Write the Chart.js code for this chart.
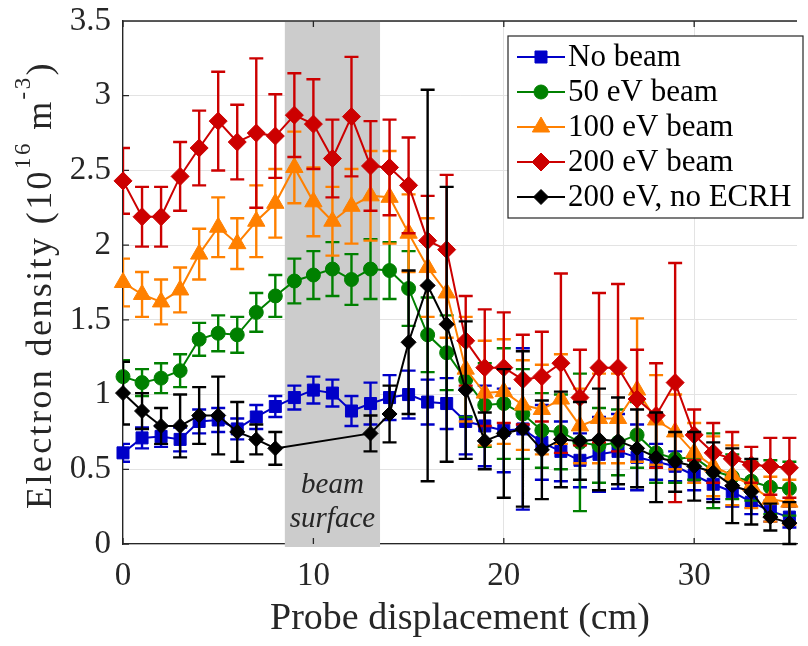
<!DOCTYPE html>
<html><head><meta charset="utf-8">
<script src="https://cdn.jsdelivr.net/npm/chart.js@4.4.1/dist/chart.umd.min.js"></script>
<style>html,body{margin:0;padding:0;background:#fff;overflow:hidden}canvas{display:block}</style>
</head><body>
<canvas id="c" width="808" height="646"></canvas>
<script>
// ---- data ----
const positions = [0,1,2,3,4,5,6,7,8,9,10,11,12,13,14,15,16,17,18,19,20,21,22,23,24,25,26,27,28,29,30,31,32,33,34,35];
const seriesLabels = ['No beam','50 eV beam','100 eV beam','200 eV beam','200 eV, no ECRH'];
const noBeam = [0.61,0.71,0.72,0.70,0.82,0.83,0.77,0.85,0.92,0.98, 1.03,1.01,0.89,0.94,0.98,1.00,0.95,0.94,0.82,0.79, 0.76,0.77,0.68,0.62,0.56,0.60,0.62,0.58,0.55,0.52, 0.46,0.40,0.35,0.28,0.22,0.18];
const noBeamErr = [0.06,0.07,0.07,0.08,0.08,0.08,0.07,0.08,0.07,0.08, 0.09,0.09,0.10,0.14,0.15,0.16,0.15,0.17,0.22,0.27, 0.28,0.54,0.25,0.20,0.18,0.25,0.25,0.22,0.12,0.10, 0.10,0.10,0.10,0.08,0.07,0.07];
const beam50 = [1.12,1.08,1.11,1.16,1.37,1.41,1.40,1.55,1.66,1.76, 1.80,1.84,1.77,1.84,1.83,1.71,1.40,1.28,1.10,0.93, 0.94,0.87,0.76,0.75,0.68,0.66,0.68,0.73,0.61,0.57, 0.58,0.49,0.45,0.42,0.38,0.37];
const beam50Err = [0.11,0.09,0.10,0.11,0.11,0.12,0.12,0.13,0.14,0.15, 0.16,0.18,0.17,0.20,0.19,0.25,0.25,0.25,0.25,0.28, 0.37,0.30,0.25,0.25,0.46,0.25,0.22,0.22,0.20,0.16, 0.15,0.25,0.15,0.13,0.18,0.18];
const beam100 = [1.75,1.67,1.62,1.70,1.94,2.12,2.01,2.16,2.28,2.52, 2.29,2.16,2.26,2.33,2.32,2.08,1.85,1.68,1.17,1.01, 1.02,0.93,0.90,0.97,0.79,0.84,0.84,1.03,0.83,0.75, 0.61,0.52,0.46,0.39,0.30,0.28];
const beam100Err = [0.16,0.15,0.15,0.15,0.17,0.20,0.17,0.24,0.23,0.24, 0.23,0.23,0.25,0.30,0.31,0.26,0.33,0.30,0.35,0.35, 0.35,0.30,0.30,0.30,0.25,0.30,0.30,0.48,0.30,0.25, 0.20,0.20,0.20,0.15,0.15,0.15];
const beam200 = [2.43,2.19,2.19,2.46,2.65,2.83,2.69,2.75,2.73,2.87, 2.81,2.58,2.86,2.53,2.52,2.40,2.03,1.97,1.36,1.18, 1.18,1.10,1.12,1.21,0.98,1.18,1.18,0.97,0.86,1.08, 0.73,0.61,0.57,0.53,0.52,0.51];
const beam200Err = [0.22,0.20,0.20,0.23,0.25,0.33,0.25,0.50,0.28,0.28, 0.30,0.26,0.40,0.30,0.32,0.32,0.30,0.50,0.30,0.39, 0.37,0.30,0.30,0.60,0.32,0.50,0.56,0.33,0.35,0.80, 0.17,0.20,0.18,0.12,0.19,0.20];
const noEcrh = [1.01,0.89,0.79,0.79,0.86,0.86,0.75,0.70,0.64,null, null,null,null,0.74,0.87,1.35,1.73,1.47,1.03,0.69, 0.74,0.77,0.63,0.70,0.69,0.70,0.69,0.64,0.58,0.55, 0.52,0.48,0.39,0.35,0.18,0.14];
const noEcrhErr = [0.21,0.12,0.12,0.21,0.19,0.26,0.20,0.10,0.11,null, null,null,null,0.12,0.19,0.48,1.31,0.92,0.46,0.19, 0.43,0.52,0.33,0.32,0.26,0.34,0.29,0.26,0.30,0.20, 0.23,0.20,0.25,0.22,0.09,0.14];
const xTicks = [0,10,20,30];
const yTicks = [0,0.5,1,1.5,2,2.5,3,3.5];
const beamBand = [8.5, 13.5];
const bandText = ['beam','surface'];
const xTitle = 'Probe displacement (cm)';

const FONT = "'Liberation Serif','Times New Roman',serif";
const colors = ['#0000c8','#008000','#ff8000','#cc0000','#000000'];
const styles = ['rect','circle','triangle','rectRot','rectRot'];
const radii = [8.5,7,10,9,7.5];

function pts(vals){ return positions.map((x,i)=>({x:x, y:vals[i]})); }
const valueSets = [noBeam, beam50, beam100, beam200, noEcrh];
const errSets = [noBeamErr, beam50Err, beam100Err, beam200Err, noEcrhErr];

const datasets = valueSets.map((v,k)=>({
  label: seriesLabels[k],
  data: pts(v),
  errs: errSets[k],
  showLine: true,
  spanGaps: true,
  borderColor: colors[k],
  backgroundColor: colors[k],
  borderWidth: 2,
  pointStyle: styles[k],
  pointRadius: radii[k],
  pointBorderWidth: 1,
  pointHoverRadius: radii[k],
  pointBackgroundColor: colors[k],
  pointBorderColor: colors[k],
  order: 5 - k,
  clip: false
}));

// ---- plugins ----
const bandPlugin = {
  id: 'band',
  beforeDatasetsDraw(chart){
    const {ctx, chartArea:a, scales:{x,y}} = chart;
    ctx.save();
    const x1 = x.getPixelForValue(beamBand[0]), x2 = x.getPixelForValue(beamBand[1]);
    ctx.fillStyle = '#cccccc';
    ctx.fillRect(x1, a.top+1, x2-x1, a.bottom-a.top+2);
    ctx.fillStyle = '#262626';
    ctx.font = 'italic 29px ' + FONT;
    ctx.textAlign = 'center';
    ctx.textBaseline = 'alphabetic';
    const cx = x.getPixelForValue((beamBand[0]+beamBand[1])/2);
    ctx.fillText(bandText[0], cx, y.getPixelForValue(0.34));
    ctx.fillText(bandText[1], cx, y.getPixelForValue(0.115));
    // frame top + inward ticks
    ctx.strokeStyle = '#262626';
    ctx.lineWidth = 1.3;
    ctx.beginPath();
    ctx.moveTo(a.left, a.top); ctx.lineTo(a.right, a.top);
    xTicks.forEach(t=>{const px=x.getPixelForValue(t); ctx.moveTo(px,a.bottom); ctx.lineTo(px,a.bottom-6); ctx.moveTo(px,a.top); ctx.lineTo(px,a.top+6);});
    yTicks.forEach(t=>{const py=y.getPixelForValue(t); ctx.moveTo(a.left,py); ctx.lineTo(a.left+6,py);});
    ctx.stroke();
    ctx.restore();
  }
};

const errPlugin = {
  id: 'errbars',
  beforeDatasetDraw(chart, args){
    const ds = chart.data.datasets[args.index];
    const meta = args.meta;
    const {ctx, chartArea:a, scales:{y}} = chart;
    ctx.save();
    ctx.beginPath(); ctx.rect(a.left, a.top, a.right-a.left, a.bottom-a.top+3); ctx.clip();
    ctx.strokeStyle = ds.borderColor;
    ctx.lineWidth = 2.4;
    ctx.beginPath();
    meta.data.forEach((el,i)=>{
      const v = ds.data[i].y, e = ds.errs[i];
      if (v==null || e==null) return;
      const px = el.x, yt = y.getPixelForValue(v+e), yb = y.getPixelForValue(v-e);
      ctx.moveTo(px, yt); ctx.lineTo(px, yb);
      ctx.moveTo(px-7, yt); ctx.lineTo(px+7, yt);
      ctx.moveTo(px-7, yb); ctx.lineTo(px+7, yb);
    });
    ctx.stroke();
    ctx.restore();
  }
};

function marker(ctx, style, r, x, y){
  ctx.beginPath();
  if (style==='rect'){ const s=Math.SQRT1_2*r; ctx.rect(x-s,y-s,2*s,2*s); }
  else if (style==='circle'){ ctx.arc(x,y,r,0,Math.PI*2); }
  else if (style==='triangle'){ for(let i=0;i<3;i++){const ang=-Math.PI/2+i*2*Math.PI/3; const px=x+Math.cos(ang)*r, py=y+Math.sin(ang)*r; i?ctx.lineTo(px,py):ctx.moveTo(px,py);} ctx.closePath(); }
  else { ctx.moveTo(x,y-r); ctx.lineTo(x+r,y); ctx.lineTo(x,y+r); ctx.lineTo(x-r,y); ctx.closePath(); }
  ctx.fill(); ctx.stroke();
}

const legendPlugin = {
  id: 'boxLegend',
  afterDraw(chart){
    const {ctx, chartArea:a} = chart;
    const left = a.left + 385, top = a.top + 15, w = 295, h = 182;
    ctx.save();
    ctx.fillStyle = '#ffffff';
    ctx.fillRect(left, top, w, h);
    ctx.strokeStyle = '#262626'; ctx.lineWidth = 1.2;
    ctx.strokeRect(left, top, w, h);
    ctx.font = '31px ' + FONT;
    ctx.textBaseline = 'middle';
    ctx.textAlign = 'left';
    chart.data.datasets.forEach((ds,k)=>{
      const cy = top + 21 + k*35;
      ctx.strokeStyle = ds.borderColor; ctx.fillStyle = ds.borderColor; ctx.lineWidth = 2;
      ctx.beginPath(); ctx.moveTo(left+9, cy); ctx.lineTo(left+57, cy); ctx.stroke();
      ctx.lineWidth = 1;
      marker(ctx, ds.pointStyle, ds.pointRadius, left+33, cy);
      ctx.fillStyle = '#000';
      ctx.fillText(ds.label, left+60, cy+1);
    });
    ctx.restore();
  }
};

const yTitlePlugin = {
  id: 'yTitle',
  afterDraw(chart){
    const ctx = chart.ctx;
    const segs = [['Electron density (10',0],['16',1],[' m',0],['-3',1],[')',0]];
    const big = '36px ' + FONT, small = '23px ' + FONT;
    ctx.save();
    ctx.letterSpacing = '2.4px';
    let total = 0;
    segs.forEach(s=>{ ctx.font = s[1]?small:big; total += ctx.measureText(s[0]).width; });
    ctx.translate(51, 285);
    ctx.rotate(-Math.PI/2);
    ctx.fillStyle = '#262626';
    ctx.textBaseline = 'alphabetic';
    let pos = -total/2;
    segs.forEach(s=>{ ctx.font = s[1]?small:big; ctx.fillText(s[0], pos, s[1]?-21:0); pos += ctx.measureText(s[0]).width; });
    ctx.restore();
  }
};

new Chart(document.getElementById('c'), {
  type: 'scatter',
  data: { datasets },
  options: {
    responsive: false,
    animation: false,
    events: [],
    layout: { padding: { top: 21, right: 0, left: 0, bottom: 0 } },
    plugins: { legend: { display: false }, tooltip: { enabled: false } },
    scales: {
      x: {
        type: 'linear', min: 0, max: 35.4,
        afterFit(s){ s.height = 102; s.paddingLeft = 0; s.paddingRight = 0; },
        afterBuildTicks(s){ s.ticks = xTicks.map(v=>({value:v})); },
        ticks: { includeBounds: false, font: { family: FONT, size: 33 }, color: '#262626', padding: 13, maxRotation: 0, callback: v => String(v) },
        grid: { color: '#e3e3e3', lineWidth: 1, drawTicks: false },
        border: { color: '#262626', width: 1.3 },
        title: { display: true, text: xTitle, font: { family: FONT, size: 38 }, color: '#262626', padding: { top: 0, bottom: 4 } }
      },
      y: {
        type: 'linear', min: 0, max: 3.5,
        afterFit(s){ s.width = 123; s.paddingTop = 0; s.paddingBottom = 0; },
        afterBuildTicks(s){ s.ticks = yTicks.map(v=>({value:v})); },
        ticks: { font: { family: FONT, size: 33 }, color: '#262626', padding: 12, callback: v => String(v) },
        grid: { color: '#e3e3e3', lineWidth: 1, drawTicks: false },
        border: { color: '#262626', width: 1.3 }
      }
    }
  },
  plugins: [bandPlugin, errPlugin, legendPlugin, yTitlePlugin]
});
</script>
</body></html>
